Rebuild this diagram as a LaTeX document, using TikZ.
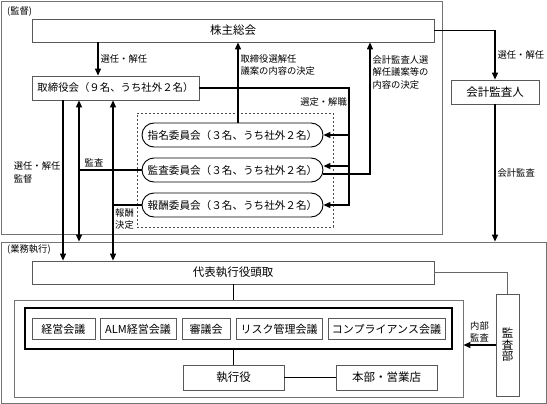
\documentclass[tikz,border=0pt]{standalone}
\usepackage{fontspec}
\setmainfont{Noto Sans CJK JP}
\usetikzlibrary{arrows.meta}

\begin{document}
\begin{tikzpicture}[x=1pt, y=-1pt,
    frame/.style={draw=black!55, line width=0.8pt},
    box/.style={draw=black!65, line width=0.8pt, fill=white, inner sep=0pt, font=\fontsize{11.5}{13}\selectfont},
    cmte/.style={draw=black, line width=0.9pt, rounded corners=12pt, fill=white, inner sep=0pt, minimum width=181, minimum height=24, font=\fontsize{10.6}{13}\selectfont},
    lbl/.style={inner sep=2pt, font=\fontsize{9.3}{12.5}\selectfont, align=left},
    arr/.style={-{Triangle[length=7pt,width=6pt]}, line width=1.2pt},
    link/.style={line width=0.9pt}]
    \useasboundingbox (0,0) rectangle (547,404);

    \node[frame, minimum width=441, minimum height=233] (sup) at (221.5,117.5) {};
    \node[lbl, anchor=west] (suplbl) at (5,12) {(監督)};
    \node[frame, minimum width=545, minimum height=161] (exe) at (273.5,322.5) {};
    \node[lbl, anchor=west] (exelbl) at (5,250) {(業務執行)};
    \node[draw=black!70, line width=0.8pt, dash pattern=on 2pt off 2pt, minimum width=196, minimum height=114] (cmtes) at (235,170) {};

    \node[box, minimum width=402, minimum height=23] (agm) at (233,30.5) {株主総会};
    \node[box, minimum width=167, minimum height=24, font=\fontsize{10.4}{13}\selectfont] (board) at (115.5,88) {取締役会（９名、うち社外２名）};
    \node[box, minimum width=88, minimum height=24] (auditor) at (495,92) {会計監査人};
    \node[cmte] (nomi) at (232.5,135) {指名委員会（３名、うち社外２名）};
    \node[cmte] (audit) at (232.5,170) {監査委員会（３名、うち社外２名）};
    \node[cmte] (comp) at (232.5,205) {報酬委員会（３名、うち社外２名）};

    \node[box, minimum width=402, minimum height=23] (ceo) at (233,272.5) {代表執行役頭取};
    \node[frame, minimum width=449, minimum height=97] (ops) at (238.5,348.5) {};
    \node[draw, line width=1.6pt, minimum width=427, minimum height=41] (mtgs) at (238.5,328.5) {};
    \foreach \nm/\cx/\w/\txt in {m1/63.5/63/経営会議, m2/138/76/ALM経営会議, m3/206/48/審議会, m4/279/86/リスク管理会議, m5/386.5/117/コンプライアンス会議}
        \node[box, minimum width=\w, minimum height=21, font=\fontsize{11}{13}\selectfont] (\nm) at (\cx,329) {\txt};
    \node[box, minimum width=101, minimum height=25] (exec) at (233.5,377.5) {執行役};
    \node[box, minimum width=101, minimum height=25] (branch) at (386.5,377.5) {本部・営業店};
    \node[box, minimum width=23, minimum height=102, align=center, font=\fontsize{11.5}{11.5}\selectfont] (iad) at (507.5,345) {監\\査\\部};

    \coordinate (xdir) at (63,0);
    \coordinate (xaud) at (79,0);
    \coordinate (xsel) at (98,0);
    \coordinate (xpay) at (113,0);
    \coordinate (xnom) at (238,0);
    \coordinate (xapp) at (349,0);
    \coordinate (xkai) at (370,0);
    \coordinate (audin) at ([yshift=4pt]audit.east);
    \coordinate (audout) at ([yshift=-4pt]audit.east);

    \draw[arr] (agm.south -| xsel) -- (board.north -| xsel) node[lbl, midway, right] (l1) {選任・解任};
    \draw[arr] (agm.east) -| (auditor.north) node[lbl, pos=0.75, right] (l2) {選任・解任};
    \draw[arr] (auditor.south) -- (auditor.south |- exe.north) node[lbl, midway, right] (l3) {会計監査};
    \draw[arr] (nomi.north -| xnom) -- (agm.south -| xnom) node[lbl, pos=0.72, right] (l4) {取締役選解任\\議案の内容の決定};
    \draw[arr] (audout) -| (agm.south -| xkai) node[lbl, pos=0.886, right] (l5) {会計監査人選\\解任議案等の\\内容の決定};
    \draw[arr] (board.east) -| (xapp |- comp.east) -- (comp.east);
    \draw[arr] (xapp |- nomi.east) -- (nomi.east);
    \draw[arr] (xapp |- audin) -- (audin);
    \path (board.east -| xapp) node[lbl, anchor=north east, yshift=-7pt] (l6) {選定・解職};
    \draw[arr] (audit.west) -| (board.south -| xaud) node[lbl, pos=0.38, above] (l7) {監査};
    \draw[arr] (audit.west -| xaud) -- (exe.north -| xaud);
    \draw[arr] (comp.west) -| (board.south -| xpay);
    \draw[arr] (comp.west -| xpay) -- (ceo.north -| xpay);
    \path (comp.west -| xpay) node[lbl, anchor=north west, yshift=-1pt] (l8) {報酬\\決定};
    \draw[arr] (board.south -| xdir) -- (ceo.north -| xdir) node[lbl, pos=0.45, left] (l9) {選任・解任\\監督};

    \draw[link, draw=black!60] (ceo.east) -| (iad.north);
    \draw[link] (ceo.south) -- (ceo.south |- ops.north);
    \draw[link] (mtgs.south -| exec.north) -- (exec.north);
    \draw[link] (exec.east) -- (branch.west);
    \draw[arr] (iad.west) -- (iad.west -| ops.east) node[lbl, midway, above, align=center] (l10) {内部\\監査};
\end{tikzpicture}
\end{document}
